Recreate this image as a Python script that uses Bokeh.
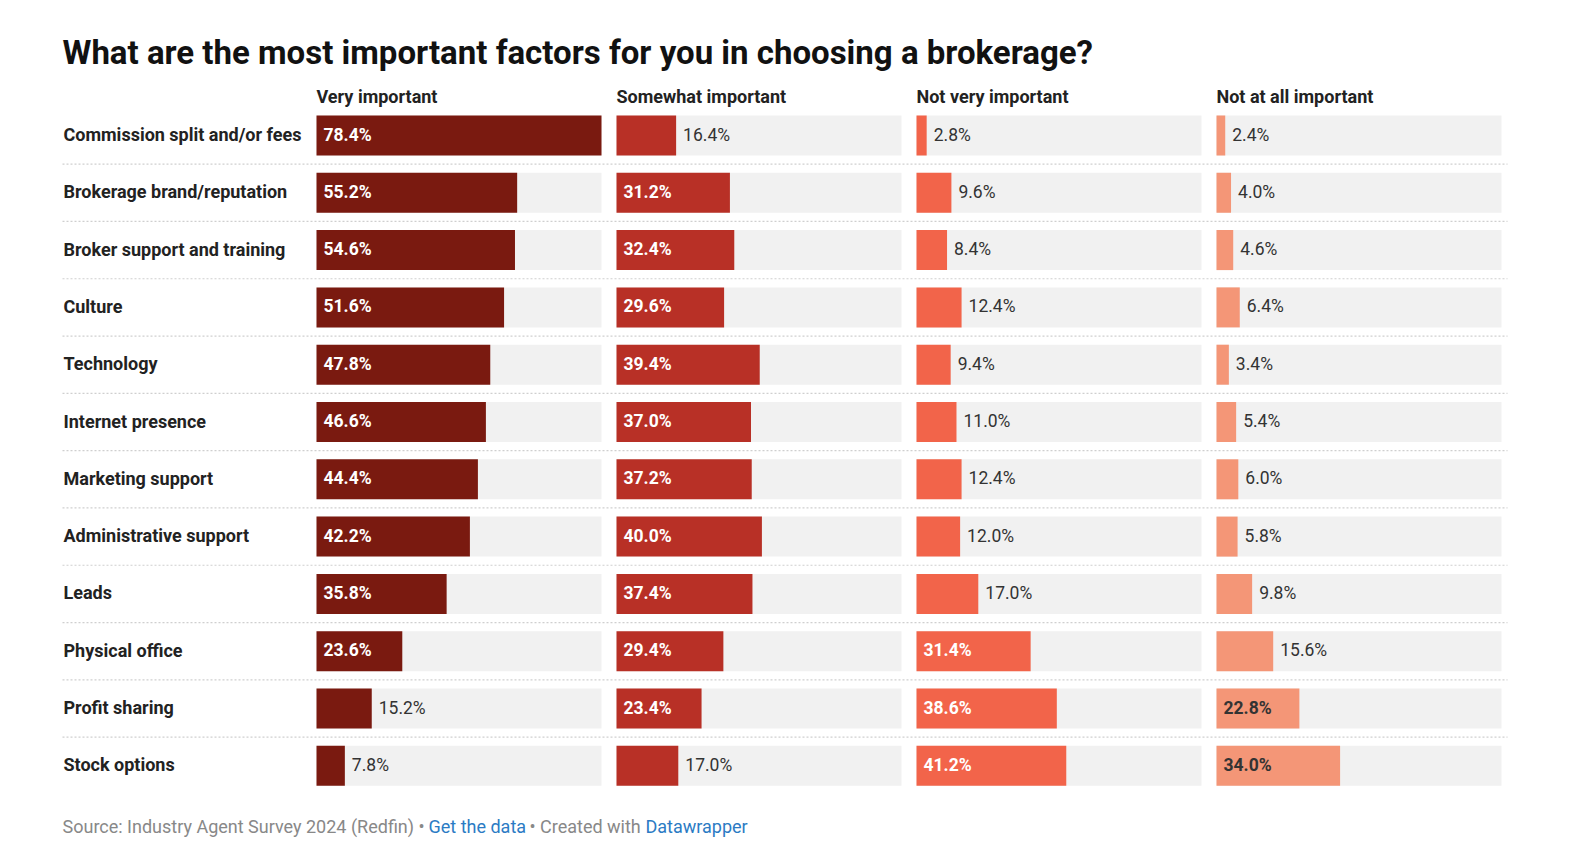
from bokeh.plotting import figure
from bokeh.models import Range1d, Label, ColumnDataSource
from bokeh.core.properties import value
from bokeh.embed import file_html
from bokeh.resources import INLINE

# ---- data -----------------------------------------------------------------
title = "What are the most important factors for you in choosing a brokerage?"
factors = [
    "Commission split and/or fees",
    "Brokerage brand/reputation",
    "Broker support and training",
    "Culture",
    "Technology",
    "Internet presence",
    "Marketing support",
    "Administrative support",
    "Leads",
    "Physical office",
    "Profit sharing",
    "Stock options",
]
groups = ["Very important", "Somewhat important", "Not very important", "Not at all important"]
very_important = [78.4, 55.2, 54.6, 51.6, 47.8, 46.6, 44.4, 42.2, 35.8, 23.6, 15.2, 7.8]
somewhat_important = [16.4, 31.2, 32.4, 29.6, 39.4, 37.0, 37.2, 40.0, 37.4, 29.4, 23.4, 17.0]
not_very_important = [2.8, 9.6, 8.4, 12.4, 9.4, 11.0, 12.4, 12.0, 17.0, 31.4, 38.6, 41.2]
not_at_all_important = [2.4, 4.0, 4.6, 6.4, 3.4, 5.4, 6.0, 5.8, 9.8, 15.6, 22.8, 34.0]
series = [very_important, somewhat_important, not_very_important, not_at_all_important]

bar_colors = ["#7a1a10", "#b83026", "#f2644a", "#f49677"]
inside_text_colors = ["#ffffff", "#ffffff", "#ffffff", "#333333"]
source_text = "Source: Industry Agent Survey 2024 (Redfin) \u2022"
link_data = "Get the data"
created_text = "\u2022 Created with"
link_dw = "Datawrapper"

# ---- layout (pixels) ------------------------------------------------------
W, H = 1572, 862
LEFT = 316          # left edge of the first column of bars
COL_STEP = 300      # distance between column starts
COL_W = 285         # width of each column's track
ROW0 = 135          # centre of the first row
ROW_STEP = 57.3     # row pitch
BAR_H = 40
INSIDE_MIN = 20.0   # values at least this big carry their label inside the bar

XMAX = max(max(s) for s in series)
PX = COL_W / XMAX   # pixels per percentage point

FONT_NAME = "Roboto"
FONT = value(FONT_NAME)

p = figure(
    width=W, height=H,
    x_range=Range1d(-LEFT / PX, (W - LEFT) / PX),
    y_range=Range1d((H - ROW0) / ROW_STEP, -ROW0 / ROW_STEP),
    output_backend="svg", toolbar_location=None,
    min_border=0, min_border_left=0, min_border_right=0,
    min_border_top=0, min_border_bottom=0,
)
p.axis.visible = False
p.grid.visible = False
p.outline_line_color = None
p.background_fill_color = "#ffffff"
p.border_fill_color = "#ffffff"

rows = list(range(len(factors)))
bar_h = BAR_H / ROW_STEP

# dotted separators between rows
sep_y = [r + 0.5 for r in rows[:-1]]
p.segment(x0=[(62 - LEFT) / PX] * len(sep_y), x1=[(1507 - LEFT) / PX] * len(sep_y),
          y0=sep_y, y1=sep_y, line_color="#cfcfcf", line_width=1.2, line_dash="2 2")

for k, vals in enumerate(series):
    off = k * COL_STEP / PX
    # grey track
    p.hbar(y=rows, left=off, right=off + XMAX, height=bar_h,
           fill_color="#f1f1f1", line_color=None)
    # value bar
    p.hbar(y=rows, left=off, right=[off + v for v in vals], height=bar_h,
           fill_color=bar_colors[k], line_color=None)

    labels = [f"{v:.1f}%" for v in vals]
    ins = [i for i, v in enumerate(vals) if v >= INSIDE_MIN]
    outs = [i for i, v in enumerate(vals) if v < INSIDE_MIN]
    if ins:
        src_in = ColumnDataSource(dict(x=[off] * len(ins), y=[rows[i] for i in ins],
                                       t=[labels[i] for i in ins]))
        p.text(x="x", y="y", text="t", source=src_in, x_offset=7, y_offset=-1,
               text_baseline="middle", text_align="left", text_font=FONT,
               text_font_size="17.5px", text_font_style="bold",
               text_color=inside_text_colors[k])
    if outs:
        src_out = ColumnDataSource(dict(x=[off + vals[i] for i in outs],
                                        y=[rows[i] for i in outs],
                                        t=[labels[i] for i in outs]))
        p.text(x="x", y="y", text="t", source=src_out, x_offset=7, y_offset=-1,
               text_baseline="middle", text_align="left", text_font=FONT,
               text_font_size="17.5px", text_color="#333333")

    # column header
    p.add_layout(Label(x=LEFT + k * COL_STEP, y=H - 96, x_units="screen", y_units="screen",
                       text=groups[k], text_font=FONT_NAME, text_font_size="18px",
                       text_font_style="bold", text_color="#222222",
                       text_baseline="middle", text_align="left"))

# row labels
p.text(x=[(63 - LEFT) / PX] * len(rows), y=rows, text=factors, y_offset=-1,
       text_baseline="middle", text_align="left", text_font=FONT,
       text_font_size="18px", text_font_style="bold", text_color="#222222")

# title
p.add_layout(Label(x=62, y=H - 52, x_units="screen", y_units="screen", text=title,
                   text_font=FONT_NAME, text_font_size="33px", text_font_style="bold",
                   text_color="#111111", text_baseline="middle", text_align="left"))

# footer
footer_parts = [
    (62, source_text, "#888888"),
    (428, link_data, "#2b7bc4"),
    (529, created_text, "#888888"),
    (645, link_dw, "#2b7bc4"),
]
for fx, txt, col in footer_parts:
    p.add_layout(Label(x=fx, y=H - 826, x_units="screen", y_units="screen", text=txt,
                       text_font=FONT_NAME, text_font_size="18px", text_color=col,
                       text_baseline="middle", text_align="left"))

open("out.html", "w").write(file_html(p, INLINE))
